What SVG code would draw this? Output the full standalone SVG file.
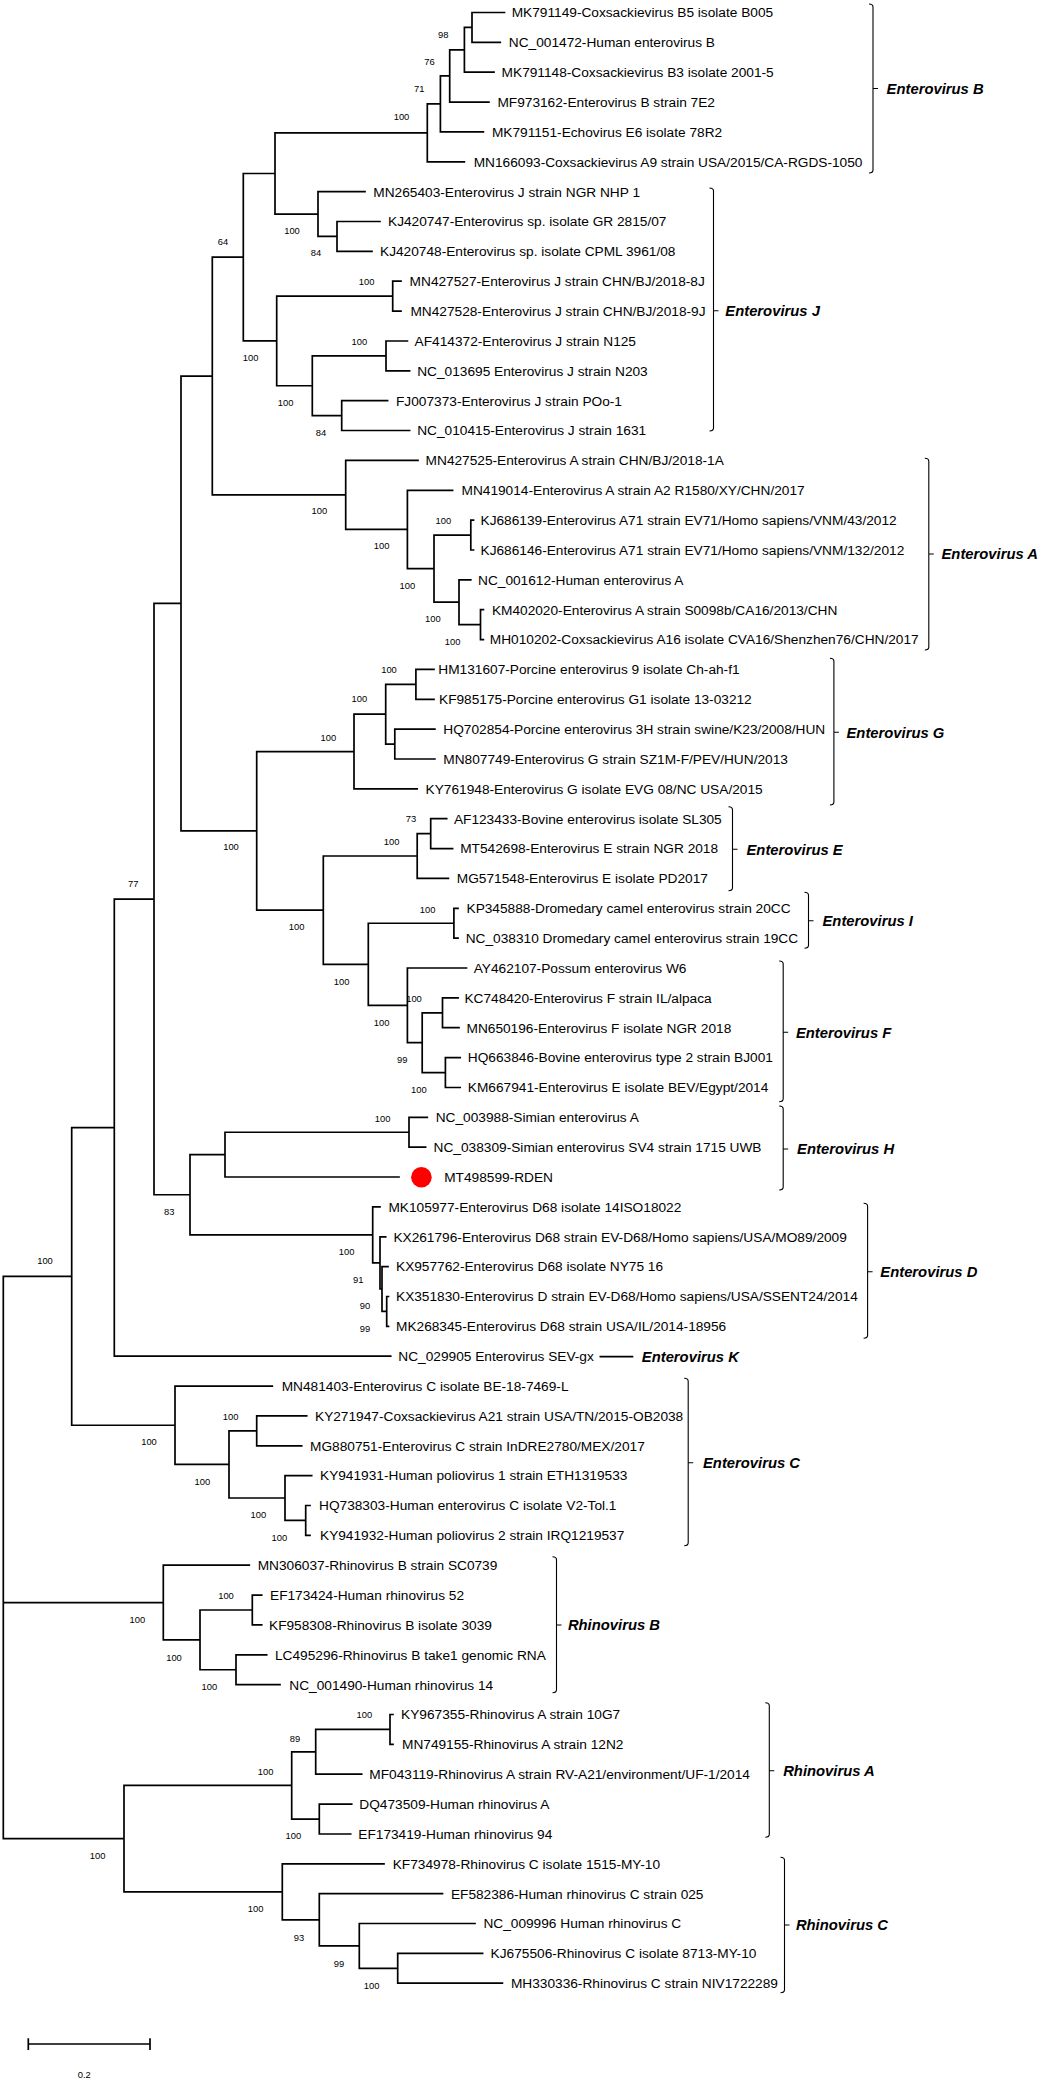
<svg xmlns="http://www.w3.org/2000/svg" width="1042" height="2083" viewBox="0 0 1042 2083">
<style>
.br{fill:none;stroke:#000;stroke-width:1.7;stroke-linecap:square}
.bk{fill:none;stroke:#000;stroke-width:1.1}
.kl{fill:none;stroke:#000;stroke-width:1.7}
.lf{font-family:"Liberation Sans",Arial,sans-serif;font-size:13.7px;fill:#000}
.bs{font-family:"Liberation Sans",Arial,sans-serif;font-size:9.4px;text-anchor:middle;fill:#000}
.cl{font-family:"Liberation Sans",Arial,sans-serif;font-size:14.8px;font-weight:bold;font-style:italic;fill:#000}
</style>
<rect width="1042" height="2083" fill="#fff"/>
<g id="connectors">
<path class="br" d="M3.3 1276.45 V1838.6 M3.3 1276.45 H71.7 M3.3 1602.55 H163.3 M3.3 1838.6 H124
M71.7 1127.65 V1425.25 M71.7 1127.65 H114.3 M71.7 1425.25 H175
M114.3 899.1 V1356.2 M114.3 899.1 H154 M114.3 1356.2 H390.7
M154 603.45 V1194.75 M154 603.45 H181 M154 1194.75 H190
M181 376.05 V830.85 M181 376.05 H212.3 M181 830.85 H256.7
M212.3 257.2 V494.9 M212.3 257.2 H243.3 M212.3 494.9 H345.7
M243.3 173.5 V340.95 M243.3 173.5 H275 M243.3 340.95 H276.7
M275 132.9 V214.1 M275 132.9 H427.3 M275 214.1 H318
M427.3 103.9 V161.8 M427.3 103.9 H440.4 M427.3 161.8 H464.4
M440.4 75.95 V131.9 M440.4 75.95 H449.7 M440.4 131.9 H483.4
M449.7 49.8 V102.1 M449.7 49.8 H464.4 M449.7 102.1 H488.9
M464.4 27.45 V72.2 M464.4 27.45 H472 M464.4 72.2 H494
M472 12.5 V42.4 M472 12.5 H504.5 M472 42.4 H500.3
M318 191.7 V236.45 M318 191.7 H365 M318 236.45 H337
M337 221.5 V251.4 M337 221.5 H380 M337 251.4 H372
M276.7 296.15 V385.75 M276.7 296.15 H392.7 M276.7 385.75 H312.3
M392.7 281.2 V311.1 M392.7 281.2 H401 M392.7 311.1 H401
M312.3 355.9 V415.6 M312.3 355.9 H386 M312.3 415.6 H341.7
M386 341 V370.8 M386 341 H407.4 M386 370.8 H409.6
M341.7 400.7 V430.5 M341.7 400.7 H387.6 M341.7 430.5 H409.6
M345.7 460.4 V529.45 M345.7 460.4 H418 M345.7 529.45 H407.4
M407.4 490.3 V568.6 M407.4 490.3 H452.6 M407.4 568.6 H434
M434 535.05 V602.2 M434 535.05 H470.8 M434 602.2 H459
M470.8 520.1 V550 M470.8 520.1 H473.5 M470.8 550 H473.5
M459 579.8 V624.65 M459 579.8 H470.8 M459 624.65 H480.5
M480.5 609.7 V639.6 M480.5 609.7 H483.4 M480.5 639.6 H483.4
M256.7 751.55 V910.15 M256.7 751.55 H354 M256.7 910.15 H323.3
M354 714.2 V788.9 M354 714.2 H385.7 M354 788.9 H417.2
M385.7 684.35 V744.05 M385.7 684.35 H415.9 M385.7 744.05 H394.8
M415.9 669.4 V699.3 M415.9 669.4 H434 M415.9 699.3 H434
M394.8 729.1 V759 M394.8 729.1 H434.9 M394.8 759 H434.9
M323.3 856 V964.3 M323.3 856 H417.2 M323.3 964.3 H368.3
M417.2 833.65 V878.4 M417.2 833.65 H430.7 M417.2 878.4 H448.4
M430.7 818.7 V848.6 M430.7 818.7 H446.7 M430.7 848.6 H452.6
M368.3 923.25 V1005.35 M368.3 923.25 H453.9 M368.3 1005.35 H407.4
M453.9 908.3 V938.2 M453.9 908.3 H458 M453.9 938.2 H458
M407.4 968 V1042.7 M407.4 968 H466.5 M407.4 1042.7 H422.2
M422.2 1012.8 V1072.55 M422.2 1012.8 H442.5 M422.2 1072.55 H445.4
M442.5 997.9 V1027.7 M442.5 997.9 H458.1 M442.5 1027.7 H459
M445.4 1057.6 V1087.5 M445.4 1057.6 H460.2 M445.4 1087.5 H460.2
M190 1154.6 V1234.9 M190 1154.6 H225 M190 1234.9 H372.7
M225 1132.25 V1177 M225 1132.25 H409 M225 1177 H399
M409 1117.3 V1147.2 M409 1117.3 H427.3 M409 1147.2 H425.6
M372.7 1206.9 V1262.9 M372.7 1206.9 H380 M372.7 1262.9 H380
M380 1236.8 V1289 M380 1236.8 H385.7 M380 1289 H382
M382 1266.6 V1311.4 M382 1266.6 H388 M382 1311.4 H386.7
M386.7 1296.5 V1326.3 M386.7 1296.5 H388.5 M386.7 1326.3 H388.5
M175 1386.1 V1464.4 M175 1386.1 H272.3 M175 1464.4 H229
M229 1430.85 V1498 M229 1430.85 H256.7 M229 1498 H285
M256.7 1415.9 V1445.8 M256.7 1415.9 H306.7 M256.7 1445.8 H301.7
M285 1475.6 V1520.45 M285 1475.6 H311.7 M285 1520.45 H305.7
M305.7 1505.5 V1535.4 M305.7 1505.5 H310 M305.7 1535.4 H310
M163.3 1565.2 V1639.9 M163.3 1565.2 H249.3 M163.3 1639.9 H200
M200 1610 V1669.75 M200 1610 H252.3 M200 1669.75 H236
M252.3 1595.1 V1624.9 M252.3 1595.1 H261.7 M252.3 1624.9 H261.7
M236 1654.8 V1684.7 M236 1654.8 H266.7 M236 1684.7 H280
M124 1785.4 V1891.8 M124 1785.4 H291.7 M124 1891.8 H282.3
M291.7 1751.8 V1819.05 M291.7 1751.8 H315.7 M291.7 1819.05 H319.3
M315.7 1729.45 V1774.2 M315.7 1729.45 H390 M315.7 1774.2 H361.7
M390 1714.5 V1744.4 M390 1714.5 H393 M390 1744.4 H393
M319.3 1804.1 V1834 M319.3 1804.1 H351.7 M319.3 1834 H350.7
M282.3 1863.8 V1919.8 M282.3 1863.8 H384 M282.3 1919.8 H319.3
M319.3 1893.7 V1945.9 M319.3 1893.7 H442.5 M319.3 1945.9 H359.3
M359.3 1923.5 V1968.3 M359.3 1923.5 H475 M359.3 1968.3 H397.7
M397.7 1953.4 V1983.2 M397.7 1953.4 H482.6 M397.7 1983.2 H502.4"/>
</g>
<g id="bootstrap">
<text class="bs" x="443.3" y="38.3">98</text>
<text class="bs" x="429.4" y="65">76</text>
<text class="bs" x="419.3" y="92.3">71</text>
<text class="bs" x="401.5" y="120.3">100</text>
<text class="bs" x="292" y="234.3">100</text>
<text class="bs" x="316" y="256.3">84</text>
<text class="bs" x="223" y="245.3">64</text>
<text class="bs" x="366.7" y="285.3">100</text>
<text class="bs" x="359.3" y="345">100</text>
<text class="bs" x="250.7" y="360.6">100</text>
<text class="bs" x="285.7" y="405.6">100</text>
<text class="bs" x="321" y="435.6">84</text>
<text class="bs" x="319.3" y="514.3">100</text>
<text class="bs" x="381.7" y="549">100</text>
<text class="bs" x="407.3" y="589">100</text>
<text class="bs" x="443.3" y="524">100</text>
<text class="bs" x="432.8" y="621.6">100</text>
<text class="bs" x="452.6" y="645">100</text>
<text class="bs" x="389" y="673.3">100</text>
<text class="bs" x="359.3" y="701.6">100</text>
<text class="bs" x="328.3" y="740.6">100</text>
<text class="bs" x="231" y="850.3">100</text>
<text class="bs" x="411" y="822.3">73</text>
<text class="bs" x="391.7" y="845.3">100</text>
<text class="bs" x="296.7" y="930">100</text>
<text class="bs" x="427.7" y="912.6">100</text>
<text class="bs" x="341.7" y="985">100</text>
<text class="bs" x="414" y="1001.6">100</text>
<text class="bs" x="381.7" y="1025.6">100</text>
<text class="bs" x="402.3" y="1062.6">99</text>
<text class="bs" x="418.8" y="1092.6">100</text>
<text class="bs" x="382.7" y="1121.6">100</text>
<text class="bs" x="169.3" y="1215">83</text>
<text class="bs" x="133.3" y="887.3">77</text>
<text class="bs" x="346.7" y="1255">100</text>
<text class="bs" x="358.3" y="1283.3">91</text>
<text class="bs" x="365" y="1309.3">90</text>
<text class="bs" x="365" y="1331.6">99</text>
<text class="bs" x="45" y="1264.3">100</text>
<text class="bs" x="149" y="1445">100</text>
<text class="bs" x="230.7" y="1420">100</text>
<text class="bs" x="202.3" y="1485">100</text>
<text class="bs" x="258.3" y="1518.3">100</text>
<text class="bs" x="279.3" y="1540.6">100</text>
<text class="bs" x="226" y="1599.3">100</text>
<text class="bs" x="137.3" y="1623.3">100</text>
<text class="bs" x="174" y="1660.6">100</text>
<text class="bs" x="209.3" y="1690">100</text>
<text class="bs" x="364.3" y="1718.3">100</text>
<text class="bs" x="295" y="1741.6">89</text>
<text class="bs" x="265.7" y="1775.3">100</text>
<text class="bs" x="293.3" y="1839.3">100</text>
<text class="bs" x="97.7" y="1858.6">100</text>
<text class="bs" x="255.7" y="1912">100</text>
<text class="bs" x="299" y="1941">93</text>
<text class="bs" x="339" y="1966.6">99</text>
<text class="bs" x="371.7" y="1989.3">100</text>
</g>
<g id="leaves">
<g id="MK791149"><text class="lf" x="511.7" y="17.3">MK791149-Coxsackievirus B5 isolate B005</text></g>
<g id="NC_001472"><text class="lf" x="508.8" y="47.2">NC_001472-Human enterovirus B</text></g>
<g id="MK791148"><text class="lf" x="501.6" y="77">MK791148-Coxsackievirus B3 isolate 2001-5</text></g>
<g id="MF973162"><text class="lf" x="497.4" y="106.9">MF973162-Enterovirus B strain 7E2</text></g>
<g id="MK791151"><text class="lf" x="491.9" y="136.7">MK791151-Echovirus E6 isolate 78R2</text></g>
<g id="MN166093"><text class="lf" x="473.7" y="166.6">MN166093-Coxsackievirus A9 strain USA/2015/CA-RGDS-1050</text></g>
<g id="MN265403"><text class="lf" x="373.3" y="196.5">MN265403-Enterovirus J strain NGR NHP 1</text></g>
<g id="KJ420747"><text class="lf" x="388" y="226.3">KJ420747-Enterovirus sp. isolate GR 2815/07</text></g>
<g id="KJ420748"><text class="lf" x="380" y="256.2">KJ420748-Enterovirus sp. isolate CPML 3961/08</text></g>
<g id="MN427527"><text class="lf" x="409.6" y="286">MN427527-Enterovirus J strain CHN/BJ/2018-8J</text></g>
<g id="MN427528"><text class="lf" x="410.4" y="315.9">MN427528-Enterovirus J strain CHN/BJ/2018-9J</text></g>
<g id="AF414372"><text class="lf" x="414.6" y="345.8">AF414372-Enterovirus J strain N125</text></g>
<g id="NC_013695"><text class="lf" x="417.2" y="375.6">NC_013695 Enterovirus J strain N203</text></g>
<g id="FJ007373"><text class="lf" x="396" y="405.5">FJ007373-Enterovirus J strain POo-1</text></g>
<g id="NC_010415"><text class="lf" x="417.2" y="435.3">NC_010415-Enterovirus J strain 1631</text></g>
<g id="MN427525"><text class="lf" x="425.6" y="465.2">MN427525-Enterovirus A strain CHN/BJ/2018-1A</text></g>
<g id="MN419014"><text class="lf" x="461.5" y="495.1">MN419014-Enterovirus A strain A2 R1580/XY/CHN/2017</text></g>
<g id="KJ686139"><text class="lf" x="480.5" y="524.9">KJ686139-Enterovirus A71 strain EV71/Homo sapiens/VNM/43/2012</text></g>
<g id="KJ686146"><text class="lf" x="480.5" y="554.8">KJ686146-Enterovirus A71 strain EV71/Homo sapiens/VNM/132/2012</text></g>
<g id="NC_001612"><text class="lf" x="478" y="584.6">NC_001612-Human enterovirus A</text></g>
<g id="KM402020"><text class="lf" x="491.9" y="614.5">KM402020-Enterovirus A strain S0098b/CA16/2013/CHN</text></g>
<g id="MH010202"><text class="lf" x="489.8" y="644.4">MH010202-Coxsackievirus A16 isolate CVA16/Shenzhen76/CHN/2017</text></g>
<g id="HM131607"><text class="lf" x="438.3" y="674.2">HM131607-Porcine enterovirus 9 isolate Ch-ah-f1</text></g>
<g id="KF985175"><text class="lf" x="439" y="704.1">KF985175-Porcine enterovirus G1 isolate 13-03212</text></g>
<g id="HQ702854"><text class="lf" x="443.3" y="733.9">HQ702854-Porcine enterovirus 3H strain swine/K23/2008/HUN</text></g>
<g id="MN807749"><text class="lf" x="443.3" y="763.8">MN807749-Enterovirus G strain SZ1M-F/PEV/HUN/2013</text></g>
<g id="KY761948"><text class="lf" x="425.6" y="793.7">KY761948-Enterovirus G isolate EVG 08/NC USA/2015</text></g>
<g id="AF123433"><text class="lf" x="453.9" y="823.5">AF123433-Bovine enterovirus isolate SL305</text></g>
<g id="MT542698"><text class="lf" x="460.2" y="853.4">MT542698-Enterovirus E strain NGR 2018</text></g>
<g id="MG571548"><text class="lf" x="456.8" y="883.2">MG571548-Enterovirus E isolate PD2017</text></g>
<g id="KP345888"><text class="lf" x="466.5" y="913.1">KP345888-Dromedary camel enterovirus strain 20CC</text></g>
<g id="NC_038310"><text class="lf" x="465.7" y="943">NC_038310 Dromedary camel enterovirus strain 19CC</text></g>
<g id="AY462107"><text class="lf" x="473.7" y="972.8">AY462107-Possum enterovirus W6</text></g>
<g id="KC748420"><text class="lf" x="464.4" y="1002.7">KC748420-Enterovirus F strain IL/alpaca</text></g>
<g id="MN650196"><text class="lf" x="466.5" y="1032.5">MN650196-Enterovirus F isolate NGR 2018</text></g>
<g id="HQ663846"><text class="lf" x="467.8" y="1062.4">HQ663846-Bovine enterovirus type 2 strain BJ001</text></g>
<g id="KM667941"><text class="lf" x="467.8" y="1092.3">KM667941-Enterovirus E isolate BEV/Egypt/2014</text></g>
<g id="NC_003988"><text class="lf" x="435.7" y="1122.1">NC_003988-Simian enterovirus A</text></g>
<g id="NC_038309"><text class="lf" x="433.6" y="1152">NC_038309-Simian enterovirus SV4 strain 1715 UWB</text></g>
<g id="MT498599"><circle cx="421.4" cy="1177.3" r="10.3" fill="#ff0000"/><text class="lf" x="444.2" y="1181.8">MT498599-RDEN</text></g>
<g id="MK105977"><text class="lf" x="388.4" y="1211.7">MK105977-Enterovirus D68 isolate 14ISO18022</text></g>
<g id="KX261796"><text class="lf" x="393.4" y="1241.6">KX261796-Enterovirus D68 strain EV-D68/Homo sapiens/USA/MO89/2009</text></g>
<g id="KX957762"><text class="lf" x="396" y="1271.4">KX957762-Enterovirus D68 isolate NY75 16</text></g>
<g id="KX351830"><text class="lf" x="396" y="1301.3">KX351830-Enterovirus D strain EV-D68/Homo sapiens/USA/SSENT24/2014</text></g>
<g id="MK268345"><text class="lf" x="396" y="1331.1">MK268345-Enterovirus D68 strain USA/IL/2014-18956</text></g>
<g id="NC_029905"><text class="lf" x="398.3" y="1361">NC_029905 Enterovirus SEV-gx</text></g>
<g id="MN481403"><text class="lf" x="281.7" y="1390.9">MN481403-Enterovirus C isolate BE-18-7469-L</text></g>
<g id="KY271947"><text class="lf" x="315" y="1420.7">KY271947-Coxsackievirus A21 strain USA/TN/2015-OB2038</text></g>
<g id="MG880751"><text class="lf" x="310" y="1450.6">MG880751-Enterovirus C strain InDRE2780/MEX/2017</text></g>
<g id="KY941931"><text class="lf" x="320" y="1480.4">KY941931-Human poliovirus 1 strain ETH1319533</text></g>
<g id="HQ738303"><text class="lf" x="319" y="1510.3">HQ738303-Human enterovirus C isolate V2-Tol.1</text></g>
<g id="KY941932"><text class="lf" x="320" y="1540.2">KY941932-Human poliovirus 2 strain IRQ1219537</text></g>
<g id="MN306037"><text class="lf" x="257.7" y="1570">MN306037-Rhinovirus B strain SC0739</text></g>
<g id="EF173424"><text class="lf" x="270" y="1599.9">EF173424-Human rhinovirus 52</text></g>
<g id="KF958308"><text class="lf" x="269" y="1629.7">KF958308-Rhinovirus B isolate 3039</text></g>
<g id="LC495296"><text class="lf" x="275" y="1659.6">LC495296-Rhinovirus B take1 genomic RNA</text></g>
<g id="NC_001490"><text class="lf" x="289.3" y="1689.5">NC_001490-Human rhinovirus 14</text></g>
<g id="KY967355"><text class="lf" x="401.1" y="1719.3">KY967355-Rhinovirus A strain 10G7</text></g>
<g id="MN749155"><text class="lf" x="402" y="1749.2">MN749155-Rhinovirus A strain 12N2</text></g>
<g id="MF043119"><text class="lf" x="369.3" y="1779">MF043119-Rhinovirus A strain RV-A21/environment/UF-1/2014</text></g>
<g id="DQ473509"><text class="lf" x="359.3" y="1808.9">DQ473509-Human rhinovirus A</text></g>
<g id="EF173419"><text class="lf" x="358.3" y="1838.8">EF173419-Human rhinovirus 94</text></g>
<g id="KF734978"><text class="lf" x="392.7" y="1868.6">KF734978-Rhinovirus C isolate 1515-MY-10</text></g>
<g id="EF582386"><text class="lf" x="450.9" y="1898.5">EF582386-Human rhinovirus C strain 025</text></g>
<g id="NC_009996"><text class="lf" x="483.4" y="1928.3">NC_009996 Human rhinovirus C</text></g>
<g id="KJ675506"><text class="lf" x="490.6" y="1958.2">KJ675506-Rhinovirus C isolate 8713-MY-10</text></g>
<g id="MH330336"><text class="lf" x="510.9" y="1988">MH330336-Rhinovirus C strain NIV1722289</text></g>
</g>
<g id="clades">
<g id="clade-EVB"><path class="bk" d="M869 4 Q873 4 873 7 V170 Q873 173 869 173 M873 88.5 H878"/><text class="cl" x="886.6" y="93.8">Enterovirus B</text></g>
<g id="clade-EVJ"><path class="bk" d="M709.5 188 Q713.5 188 713.5 191 V428 Q713.5 431 709.5 431 M713.5 310.7 H718.5"/><text class="cl" x="725.3" y="316">Enterovirus J</text></g>
<g id="clade-EVA"><path class="bk" d="M924.8 458.3 Q928.8 458.3 928.8 461.3 V647 Q928.8 650 924.8 650 M928.8 554 H933.8"/><text class="cl" x="941.5" y="559.3">Enterovirus A</text></g>
<g id="clade-EVG"><path class="bk" d="M829.9 658.3 Q833.9 658.3 833.9 661.3 V802 Q833.9 805 829.9 805 M833.9 732.3 H838.9"/><text class="cl" x="846.5" y="737.6">Enterovirus G</text></g>
<g id="clade-EVE"><path class="bk" d="M728.5 806.7 Q732.5 806.7 732.5 809.7 V887.7 Q732.5 890.7 728.5 890.7 M732.5 849.3 H737.5"/><text class="cl" x="746.5" y="854.6">Enterovirus E</text></g>
<g id="clade-EVI"><path class="bk" d="M804.5 892.3 Q808.5 892.3 808.5 895.3 V945.3 Q808.5 948.3 804.5 948.3 M808.5 920.7 H813.5"/><text class="cl" x="822.5" y="926">Enterovirus I</text></g>
<g id="clade-EVF"><path class="bk" d="M779.2 961 Q783.2 961 783.2 964 V1098.7 Q783.2 1101.7 779.2 1101.7 M783.2 1032.3 H788.2"/><text class="cl" x="795.9" y="1037.6">Enterovirus F</text></g>
<g id="clade-EVH"><path class="bk" d="M779.2 1106 Q783.2 1106 783.2 1109 V1187 Q783.2 1190 779.2 1190 M783.2 1149 H788.2"/><text class="cl" x="797.1" y="1154.3">Enterovirus H</text></g>
<g id="clade-EVD"><path class="bk" d="M863.6 1203.3 Q867.6 1203.3 867.6 1206.3 V1335.3 Q867.6 1338.3 863.6 1338.3 M867.6 1271.7 H872.6"/><text class="cl" x="880.3" y="1277">Enterovirus D</text></g>
<g id="clade-EVK"><path class="kl" d="M599.5 1356.7 H633.3"/><text class="cl" x="641.8" y="1362">Enterovirus K</text></g>
<g id="clade-EVC"><path class="bk" d="M684.2 1378.3 Q688.2 1378.3 688.2 1381.3 V1542.7 Q688.2 1545.7 684.2 1545.7 M688.2 1462.7 H693.2"/><text class="cl" x="703" y="1468">Enterovirus C</text></g>
<g id="clade-RVB"><path class="bk" d="M552.5 1556.7 Q556.5 1556.7 556.5 1559.7 V1689.7 Q556.5 1692.7 552.5 1692.7 M556.5 1625 H561.5"/><text class="cl" x="567.9" y="1630.3">Rhinovirus B</text></g>
<g id="clade-RVA"><path class="bk" d="M765.3 1702.7 Q769.3 1702.7 769.3 1705.7 V1834.3 Q769.3 1837.3 765.3 1837.3 M769.3 1770.7 H774.3"/><text class="cl" x="783.2" y="1776">Rhinovirus A</text></g>
<g id="clade-RVC"><path class="bk" d="M780.5 1857.3 Q784.5 1857.3 784.5 1860.3 V1989.7 Q784.5 1992.7 780.5 1992.7 M784.5 1925 H789.5"/><text class="cl" x="795.9" y="1930.3">Rhinovirus C</text></g>
</g>
<g id="scalebar">
<path class="kl" d="M28.3 2044 H150 M28.3 2038.3 V2050 M150 2038.3 V2050"/>
<text class="bs" x="84.3" y="2078.3">0.2</text>
</g>
</svg>
